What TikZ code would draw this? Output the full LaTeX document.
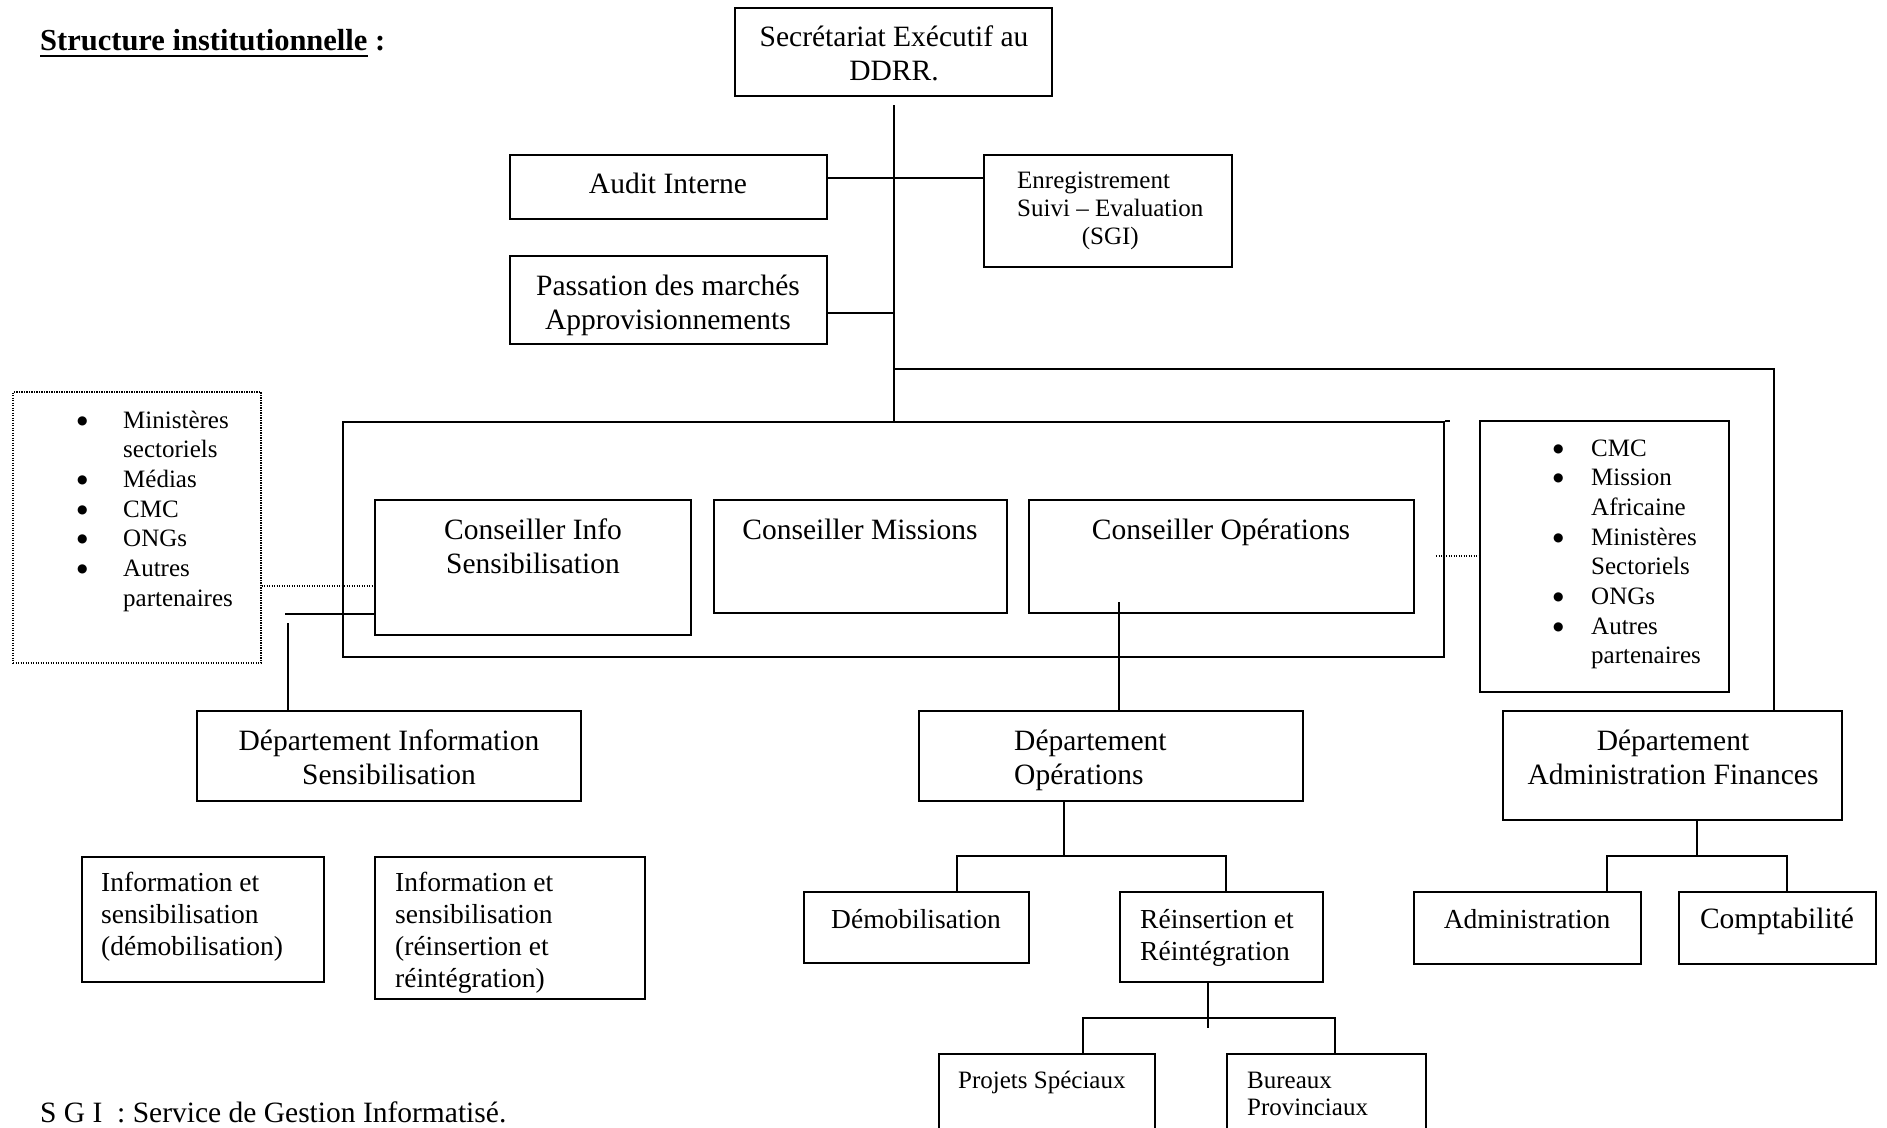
\documentclass[tikz,border=0pt]{standalone}
\usepackage{fontspec}
\setmainfont{Liberation Serif}
\newfontfamily\dejavu{DejaVu Sans}
\usetikzlibrary{fit}
\newcommand\myul[1]{\setbox0\hbox{#1}\rlap{\rule[-7pt]{\wd0}{2.4pt}}\box0\relax}
\newcommand\bul{\raisebox{4pt}{\dejavu\fontsize{12}{12}\selectfont ●}}
\newcommand\fA{\fontsize{29.5}{34.5}\selectfont}
\newcommand\fB{\fontsize{27.5}{32}\selectfont}
\newcommand\fC{\fontsize{25}{29.7}\selectfont}
\newcommand\mlines[2]{\begin{tabular}[t]{@{}#1@{}}#2\end{tabular}}
\begin{document}
\begin{tikzpicture}[x=1pt,y=-1pt,
  box/.style={draw, line width=1.8pt, inner sep=0pt, rectangle},
  dotbox/.style={draw, line width=1.2pt, dash pattern=on 1.2pt off 1.3pt, inner sep=0pt, rectangle},
  conn/.style={line width=1.8pt},
  dotconn/.style={line width=1.2pt, dash pattern=on 1.2pt off 1.3pt},
  lbl/.style={anchor=base, inner sep=0pt, font=\fA},
  lblw/.style={anchor=base west, inner sep=0pt, font=\fA},
]
\useasboundingbox (0,0) rectangle (1887,1127);
\fill[white] (0,0) rectangle (1887,1127);
\clip (0,0) rectangle (1887,1127);

% title
\node[lblw, font=\fontsize{30.5}{35}\selectfont\bfseries] (title) at (40,50) {\myul{Structure institutionnelle}\ :};

% top
\node[box, fit={(735,8)(1052,96)}] (sec) {};
\node[lbl] (sect) at (894,46) {\mlines{c}{Secrétariat Exécutif au\\DDRR.}};

\node[box, fit={(510,155)(827,219)}] (audit) {};
\node[lbl] (auditt) at (668,193) {Audit Interne};

\node[box, fit={(984,155)(1232,267)}] (enreg) {};
\node[anchor=base west, inner sep=0pt, font=\fontsize{25}{28.3}\selectfont] (enregt) at (1017,188)
  {\begin{tabular}[t]{@{}l@{}}Enregistrement\\Suivi – Evaluation\\\multicolumn{1}{@{}c@{}}{(SGI)}\end{tabular}};

\node[box, fit={(510,256)(827,344)}] (pass) {};
\node[lbl] (passt) at (668,295) {\mlines{c}{Passation des marchés\\Approvisionnements}};

% container and advisers
\node[box, fit={(343,422)(1444,657)}] (cont) {};
\draw[conn] (cont.north east) -- ++(5,0);

\node[box, fit={(375,500)(691,635)}] (cinfo) {};
\node[lbl] (cinfot) at (533,539) {\mlines{c}{Conseiller Info\\Sensibilisation}};
\node[box, fit={(714,500)(1007,613)}] (cmiss) {};
\node[lbl] (cmisst) at (860,539) {Conseiller Missions};
\node[box, fit={(1029,500)(1414,613)}] (cops) {};
\node[lbl] (copst) at (1221,539) {Conseiller Opérations};

% partner boxes
\node[dotbox, fit={(13,392)(261,663)}] (lpart) {};
\node[anchor=base west, inner sep=0pt, font=\fC] (lpartt) at (77,428)
  {\begin{tabular}[t]{@{}p{46pt}@{}l@{}}
   \bul & Ministères\\ & sectoriels\\ \bul & Médias\\ \bul & CMC\\
   \bul & ONGs\\ \bul & Autres\\ & partenaires\end{tabular}};

\node[box, fit={(1480,421)(1729,692)}] (rpart) {};
\node[anchor=base west, inner sep=0pt, font=\fC] (rpartt) at (1553,456)
  {\begin{tabular}[t]{@{}p{38pt}@{}l@{}}
   \bul & CMC\\ \bul & Mission\\ & Africaine\\ \bul & Ministères\\ & Sectoriels\\
   \bul & ONGs\\ \bul & Autres\\ & partenaires\end{tabular}};

% departments
\node[box, fit={(197,711)(581,801)}] (dinfo) {};
\node[lbl] (dinfot) at (389,750) {\mlines{c}{Département Information\\Sensibilisation}};

\node[box, fit={(919,711)(1303,801)}] (dops) {};
\node[lblw] (dopst) at (1014,750) {\mlines{l}{Département\\Opérations}};

\node[box, fit={(1503,711)(1842,820)}] (daf) {};
\node[lbl] (daft) at (1673,750) {\mlines{c}{Département\\Administration Finances}};

% info boxes
\node[box, fit={(82,857)(324,982)}] (idemob) {};
\node[lblw, font=\fB] (idemobt) at (101,891) {\mlines{l}{Information et\\sensibilisation\\(démobilisation)}};
\node[box, fit={(375,857)(645,999)}] (ireins) {};
\node[lblw, font=\fB] (ireinst) at (395,891) {\mlines{l}{Information et\\sensibilisation\\(réinsertion et\\réintégration)}};

% operations children
\node[box, fit={(804,892)(1029,963)}] (demob) {};
\node[lbl, font=\fB] (demobt) at (916,928) {Démobilisation};
\node[box, fit={(1120,892)(1323,982)}] (reins) {};
\node[lblw, font=\fB] (reinst) at (1140,928) {\mlines{l}{Réinsertion et\\Réintégration}};

\node[box, fit={(939,1054)(1155,1150)}] (proj) {};
\node[lblw, font=\fC] (projt) at (958,1088) {Projets Spéciaux};
\node[box, fit={(1227,1054)(1426,1150)}] (bur) {};
\node[lblw, font=\fontsize{25}{27.5}\selectfont] (burt) at (1247,1088) {\mlines{l}{Bureaux\\Provinciaux}};

% admin children
\node[box, fit={(1414,892)(1641,964)}] (admin) {};
\node[lbl, font=\fB] (admint) at (1527,928) {Administration};
\node[box, fit={(1679,892)(1876,964)}] (compta) {};
\node[lbl] (comptat) at (1777,928) {Comptabilité};

% footnote
\node[lblw] (sgi) at (40,1122) {S G I~~: Service de Gestion Informatisé.};

% connectors
\coordinate (t0) at (894,105);
\draw[conn] (t0) -- (t0 |- cont.north);
\draw[conn] (audit.east |- 0,178) -- (enreg.west |- 0,178);
\draw[conn] (pass.east |- 0,313) -- (t0 |- 0,313);
\coordinate (t1) at (1774,369);
\draw[conn] (t0 |- t1) -- (t1) -- (t1 |- daf.north);

\draw[dotconn] (lpart.east |- 0,586) -- (cinfo.west |- 0,586);
\coordinate (rd) at (1436,556);
\draw[dotconn] (rd) -- (rd -| rpart.west);

\coordinate (j1) at (285,614);
\draw[conn] (j1) -- (j1 -| cinfo.west);
\coordinate (j2) at (288,623);
\draw[conn] (j2) -- (j2 |- dinfo.north);

\coordinate (o1) at (1119,602);
\draw[conn] (o1) -- (o1 |- dops.north);

\coordinate (b1) at (1064,856);
\draw[conn] (dops.south -| b1) -- (b1);
\draw[conn] (demob.north -| 957,0) |- (b1) -| (reins.north -| 1226,0);

\coordinate (b2) at (1208,1028);
\draw[conn] (reins.south -| b2) -- (b2);
\coordinate (b2r) at (1335,1018);
\draw[conn] (proj.north -| 1083,0) |- (b2r) -- (b2r |- bur.north);

\coordinate (b3) at (1697,856);
\draw[conn] (daf.south -| b3) -- (b3);
\draw[conn] (admin.north -| 1607,0) |- (b3) -| (compta.north -| 1787,0);
\end{tikzpicture}
\end{document}
